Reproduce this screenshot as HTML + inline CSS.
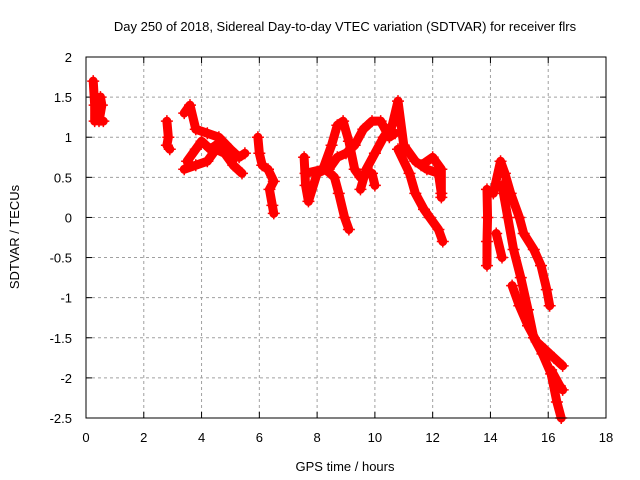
<!DOCTYPE html>
<html><head><meta charset="utf-8"><style>
body{margin:0;background:#fff;}
svg{display:block;font-family:"Liberation Sans",sans-serif;}
</style></head><body>
<svg id="chart" width="640" height="480">
<text x="345" y="31" font-size="13" text-anchor="middle">Day 250 of 2018, Sidereal Day-to-day VTEC variation (SDTVAR) for receiver flrs</text>
<text x="345" y="471" font-size="13" text-anchor="middle">GPS time / hours</text>
<text transform="translate(19,237) rotate(-90)" font-size="13" text-anchor="middle">SDTVAR / TECUs</text>
<g id="grid"></g><g id="marks"></g>
<rect x="86" y="57" width="520" height="361" fill="none" stroke="#000" stroke-width="1"/>
</svg>
<script>
const xTicks=[0,2,4,6,8,10,12,14,16,18];
const yTicks=[2,1.5,1,0.5,0,-0.5,-1,-1.5,-2,-2.5];
const yLabels=["2","1.5","1","0.5","0","-0.5","-1","-1.5","-2","-2.5"];
const track1=[[0.25,1.7],[0.3,1.4],[0.3,1.2],[0.4,1.3],[0.5,1.5],[0.55,1.4],[0.45,1.2],[0.6,1.2]];
const track2=[[2.8,1.2],[2.85,1.0],[2.8,0.9],[2.9,0.85]];
const track3=[[3.4,1.3],[3.6,1.4],[3.8,1.1],[4.2,1.05],[4.6,1.0],[5.0,0.85],[5.3,0.75],[5.5,0.8]];
const track4=[[3.4,0.6],[3.8,0.65],[4.2,0.7],[4.5,0.85],[4.8,0.8],[5.1,0.65],[5.4,0.55]];
const track5=[[3.5,0.7],[3.8,0.85],[4.0,0.95],[4.3,0.85],[4.7,0.95],[5.2,0.75]];
const track6=[[5.95,1.0],[6.0,0.8],[6.1,0.65],[6.3,0.6],[6.5,0.45],[6.35,0.35],[6.45,0.15],[6.5,0.05]];
const track7=[[7.55,0.75],[7.6,0.4],[7.7,0.2],[8.0,0.55],[8.3,0.6],[8.6,0.5],[8.75,0.3],[8.95,0.0],[9.1,-0.15]];
const track8=[[7.6,0.55],[8.2,0.6],[8.5,0.9],[8.7,1.15],[8.9,1.2],[9.1,0.95],[9.3,0.6],[9.5,0.5],[9.7,0.55],[9.9,0.55],[10.0,0.4]];
const track9=[[8.4,0.6],[8.7,0.75],[9.0,0.8],[9.3,0.9],[9.6,1.1],[9.9,1.2],[10.2,1.2],[10.5,1.0],[10.7,1.05]];
const track10=[[9.5,0.35],[9.7,0.6],[10.0,0.8],[10.3,1.0],[10.6,1.15],[10.8,1.45],[11.0,0.9],[11.4,0.7],[11.8,0.6],[12.2,0.55],[12.3,0.3]];
const track11=[[10.8,0.85],[11.2,0.55],[11.4,0.3],[11.7,0.1],[11.9,0.0],[12.2,-0.15],[12.35,-0.3]];
const track12=[[11.6,0.65],[12.0,0.75],[12.3,0.6],[12.3,0.25]];
const track13=[[13.88,0.35],[13.9,0.0],[13.88,-0.3],[13.88,-0.6]];
const track14=[[14.1,0.3],[14.35,0.7],[14.5,0.55],[14.7,0.3],[15.0,0.0],[15.15,-0.2],[15.5,-0.4],[15.75,-0.6],[15.95,-0.9],[16.05,-1.1]];
const track15=[[14.4,0.4],[14.6,0.0],[14.8,-0.4],[15.05,-0.75],[15.3,-1.15],[15.5,-1.5],[15.8,-1.7],[16.1,-1.95],[16.3,-2.3],[16.45,-2.5]];
const track16=[[14.2,-0.2],[14.4,-0.5]];
const track17=[[14.75,-0.85],[15.0,-1.1],[15.3,-1.35],[15.6,-1.55],[15.9,-1.65],[16.2,-1.75],[16.5,-1.85]];
const track18=[[16.1,-1.9],[16.4,-2.1],[16.5,-2.15]];
const tracks=[track1,track2,track3,track4,track5,track6,track7,track8,track9,track10,track11,track12,track13,track14,track15,track16,track17,track18];
const NS="http://www.w3.org/2000/svg";
const X0=86,X1=606,Y0=418,Y1=57;
function xs(v){return X0+(v-0)/18*(X1-X0);}
function ys(v){return Y0-(v+2.5)/4.5*(Y0-Y1);}
const grid=document.getElementById('grid'),marks=document.getElementById('marks');
function mk(tag,attrs,parent){const e=document.createElementNS(NS,tag);for(const k in attrs)e.setAttribute(k,attrs[k]);parent.appendChild(e);return e;}
xTicks.forEach(t=>{const x=xs(t);
 if(t>0&&t<18){const l=mk('line',{x1:x,x2:x,y1:Y1,y2:Y0,stroke:'#a0a0a0','stroke-dasharray':'3,3'},grid);
 
 }
 mk('line',{x1:x,x2:x,y1:Y0,y2:Y0-6,stroke:'#000'},grid);mk('line',{x1:x,x2:x,y1:Y1,y2:Y1+6,stroke:'#000'},grid);
 const tx=mk('text',{x:x,y:442,'font-size':13,'text-anchor':'middle'},grid);tx.textContent=t;
 
 });
yTicks.forEach((t,i)=>{const y=ys(t);
 if(i>0&&i<yTicks.length-1){const l=mk('line',{x1:X0,x2:X1,y1:y,y2:y,stroke:'#a0a0a0','stroke-dasharray':'3,3'},grid);
 
 }
 mk('line',{x1:X0,x2:X0+6,y1:y,y2:y,stroke:'#000'},grid);mk('line',{x1:X1,x2:X1-6,y1:y,y2:y,stroke:'#000'},grid);
 const tx=mk('text',{x:72,y:y+5,'font-size':13,'text-anchor':'end'},grid);tx.textContent=yLabels[i];
 
 });
tracks.forEach((tr)=>{
 const pts=tr.map(p=>xs(p[0])+','+ys(p[1])).join(' ');
 const pl=mk('polyline',{points:pts,fill:'none',stroke:'#ff0000','stroke-width':9,'stroke-linejoin':'round','stroke-linecap':'round'},marks);
 
 
 tr.forEach(p=>{const x=xs(p[0]),y=ys(p[1]);
  const m=mk('path',{d:`M${x-6},${y}H${x+6}M${x},${y-6}V${y+6}`,stroke:'#ff0000','stroke-width':1.5},marks);
  
  });
});
</script>
</body></html>
